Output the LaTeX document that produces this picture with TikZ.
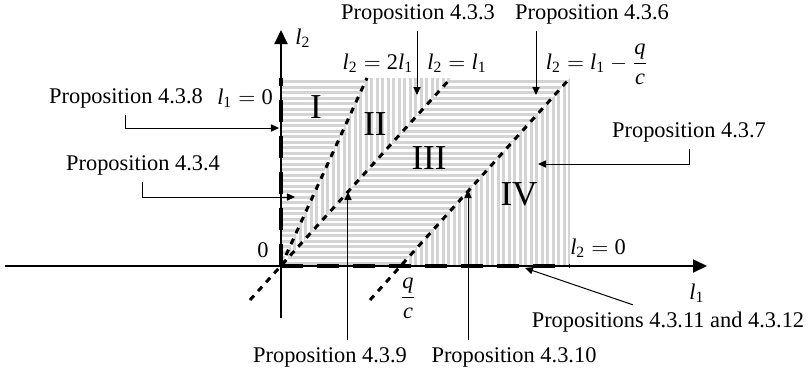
\documentclass[tikz,border=0pt]{standalone}
\usepackage{amsmath}
\usepackage{fontspec}
\setmainfont{Liberation Serif}
\usetikzlibrary{calc,arrows.meta,positioning}
\definecolor{hatchgray}{RGB}{212,212,212}
\newcommand{\lvar}[1]{\text{\itshape l}_{\text{#1}}}

\begin{document}
\begin{tikzpicture}[x=0.5pt,y=0.5pt,
    font=\fontsize{11.2}{13}\selectfont,
    axis/.style={line width=1pt,-{Triangle[length=7pt,width=6.5pt]}},
    bound/.style={line width=2.3pt,dash pattern=on 11pt off 7pt},
    border/.style={line width=1.5pt,dash pattern=on 3pt off 3pt},
    pointer/.style={line width=0.5pt,-{Triangle[length=4pt,width=3.6pt]}},
    region/.style={font=\fontsize{17.5}{20}\selectfont},
    hatch/.style={hatchgray,line width=1.3pt}]
    \useasboundingbox (-281,-105) rectangle (528,266);

    % regions I and III
    \begin{scope}
        \clip (0,0)--(0,188)--(86,188)--cycle (0,0)--(170,188)--(289,188)--(119,0)--cycle;
        \foreach \y in {2.75,8.25,...,188} \draw[hatch] (0,\y)--(289,\y);
    \end{scope}
    % regions II and IV
    \begin{scope}
        \clip (0,0)--(86,188)--(170,188)--cycle (119,0)--(289,188)--(289,0)--cycle;
        \foreach \x in {2.75,8.25,...,289} \draw[hatch] (\x,0)--(\x,188);
    \end{scope}

    \draw[axis] (-276,0) -- (426,0);
    \draw[axis] (0,-52) -- (0,236);
    \draw[border] (0,0) -- (86,188);
    \draw[border] (-31,-34) -- (170,188);
    \draw[border] (89,-34) -- (289,188);
    \draw[bound] (0,0) -- (0,188);
    \draw[bound] (0,0) -- (289,0);

    \node (ylab) at (22,228) {$\lvar{2}$};
    \node (xlab) at (416,-27) {$\lvar{1}$};
    \node (zero) at (-18,16) {0};
    \node[anchor=base] (eqa) at (-36,162) {$\lvar{1} = \text{0}$};
    \node[anchor=base] (eqb) at (97,197) {$\lvar{2} = \text{2}\lvar{1}$};
    \node[anchor=base] (eqc) at (176,197) {$\lvar{2} = \lvar{1}$};
    \node[anchor=base] (eqd) at (316,197) {$\lvar{2} = \lvar{1} - \dfrac{\textit{q}}{\textit{c}}$};
    \node[anchor=base] (eqe) at (317,12) {$\lvar{2} = \text{0}$};
    \node (qc) at (127,-32) {$\dfrac{\textit{q}}{\textit{c}}$};

    \node[region] (r1) at (35,159) {I};
    \node[region] (r2) at (94,142) {II};
    \node[region] (r3) at (148,108) {III};
    \node[region] (r4) at (238,72) {IV};

    \node (p438) at (-155,168) {Proposition 4.3.8};
    \coordinate (t438) at (-2,138);
    \draw[pointer] (p438.south) |- (t438);

    \node (p434) at (-138,101) {Proposition 4.3.4};
    \coordinate (t434) at (14,69);
    \draw[pointer] (p434.south) |- (t434);

    \node (p433) at (137,252) {Proposition 4.3.3};
    \coordinate (t433) at (136,171);
    \draw[pointer] (t433 |- p433.south) -- (t433);

    \node (p436) at (311,252) {Proposition 4.3.6};
    \coordinate (t436) at (255,171);
    \draw[pointer] (t436 |- p436.south) -- (t436);

    \node (p437) at (408,134) {Proposition 4.3.7};
    \coordinate (t437) at (257,102);
    \draw[pointer] (p437.south) |- (t437);

    \node (p439) at (49,-91) {Proposition 4.3.9};
    \coordinate (t439) at (67,74);
    \draw[pointer] (t439 |- p439.north) -- (t439);

    \node (p4310) at (233,-91) {Proposition 4.3.10};
    \coordinate (t4310) at (187,76);
    \draw[pointer] (t4310 |- p4310.north) -- (t4310);

    \node (p4311) at (387,-56) {Propositions 4.3.11 and 4.3.12};
    \coordinate (t4311) at (244,-2);
    \draw[pointer] ($(p4311.north west)+(108,0)$) -- (t4311);
\end{tikzpicture}
\end{document}
